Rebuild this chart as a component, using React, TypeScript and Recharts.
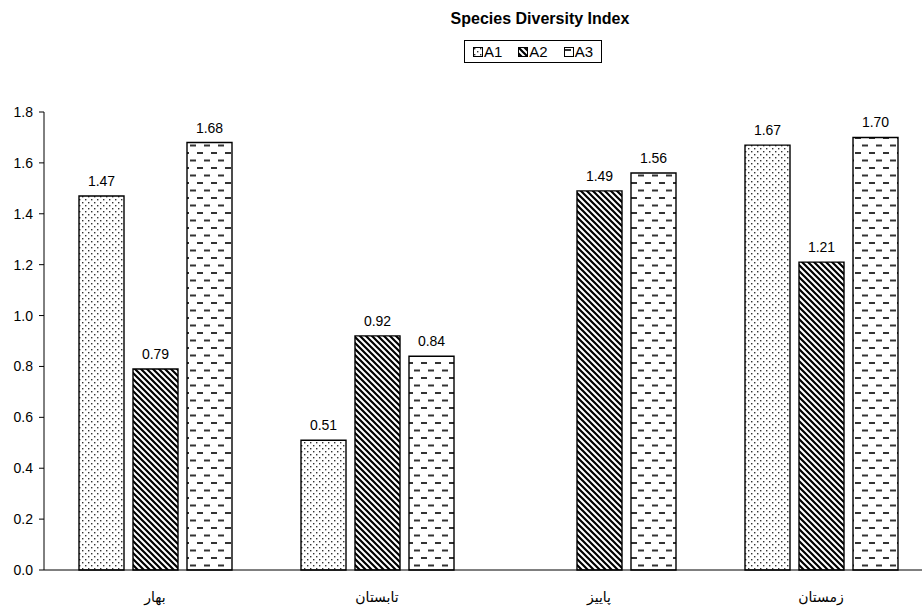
import React from "react";
import { BarChart, Bar, XAxis, YAxis, Legend, LabelList } from "recharts";

const categories = ["بهار", "تابستان", "پاییز", "زمستان"];
const seriesA1 = [1.47, 0.51, null, 1.67];
const seriesA2 = [0.79, 0.92, 1.49, 1.21];
const seriesA3 = [1.68, 0.84, 1.56, 1.7];
const yTicks = [0, 0.2, 0.4, 0.6, 0.8, 1.0, 1.2, 1.4, 1.6, 1.8];
const boundaryTicks = [0, 1, 2, 3, 4];

const data = categories.map((season, i) => ({
  season,
  A1: seriesA1[i],
  A2: seriesA2[i],
  A3: seriesA3[i],
}));

const FONT = "Arial, 'Liberation Sans', 'DejaVu Sans', sans-serif";

const patternFor: Record<string, string> = {
  A1: "url(#patDots)",
  A2: "url(#patDiag)",
  A3: "url(#patDash)",
};

const fmt = (v: any) => (v == null ? "" : Number(v).toFixed(2));

const renderLegend = (props: any) => {
  const { payload } = props;
  return (
    <div
      style={{
        display: "inline-flex",
        alignItems: "center",
        border: "1px solid #000",
        padding: "2px 8px",
        height: 17,
        fontFamily: FONT,
        fontSize: 15,
        color: "#000",
        background: "#fff",
      }}
    >
      {payload.map((entry: any, i: number) => (
        <span
          key={entry.value}
          style={{ display: "flex", alignItems: "center", marginRight: i < payload.length - 1 ? 16 : 0 }}
        >
          <svg width={10} height={10} style={{ marginRight: 1 }}>
            <rect x={0.5} y={0.5} width={9} height={9} fill={patternFor[entry.dataKey]} stroke="#000" />
          </svg>
          <span>{entry.value}</span>
        </span>
      ))}
    </div>
  );
};

export default function App() {
  return (
    <div
      style={{
        position: "absolute",
        left: 0,
        top: 0,
        width: 922,
        height: 609,
        overflow: "hidden",
        background: "#fff",
        fontFamily: FONT,
      }}
    >
      <div
        style={{
          position: "absolute",
          left: 440,
          top: 10,
          width: 200,
          textAlign: "center",
          fontSize: 16,
          fontWeight: "bold",
          color: "#000",
          whiteSpace: "nowrap",
        }}
      >
        Species Diversity Index
      </div>
      <BarChart
        width={942}
        height={609}
        data={data}
        margin={{ top: 112, right: 10, bottom: 0, left: 0 }}
        barCategoryGap={35}
        barGap={9}
      >
        <defs>
          <pattern id="patDots" patternUnits="userSpaceOnUse" width={6} height={6}>
            <rect width={6} height={6} fill="#fff" />
            <rect x={1} y={1} width={1.4} height={1.4} fill="#333" />
            <rect x={4} y={4} width={1.4} height={1.4} fill="#333" />
          </pattern>
          <pattern id="patDiag" patternUnits="userSpaceOnUse" width={6} height={6}>
            <rect width={6} height={6} fill="#fff" />
            <path d="M-1,-1 L7,7 M-4,2 L2,8 M2,-4 L8,2" stroke="#000" strokeWidth={2.2} />
          </pattern>
          <pattern id="patDash" patternUnits="userSpaceOnUse" width={14} height={15}>
            <rect width={14} height={15} fill="#fff" />
            <rect x={1} y={2} width={6} height={2} fill="#333" />
            <rect x={8} y={9.5} width={6} height={2} fill="#333" />
          </pattern>
        </defs>
        <XAxis
          xAxisId="aEdge"
          type="number"
          domain={[0, 4]}
          ticks={boundaryTicks}
          allowDataOverflow
          tick={false}
          tickSize={6}
          height={6}
          axisLine={{ stroke: "#000" }}
          tickLine={{ stroke: "#000" }}
        />
        <XAxis
          xAxisId="bCat"
          dataKey="season"
          height={33}
          axisLine={false}
          tickLine={false}
          tickSize={6}
          tickMargin={10}
          tick={{ fill: "#000", fontSize: 14, fontFamily: FONT }}
          interval={0}
        />
        <YAxis
          domain={[0, 1.8]}
          ticks={yTicks}
          width={44}
          tickSize={5}
          tickMargin={6}
          tickFormatter={(v: number) => v.toFixed(1)}
          tick={{ fill: "#000", fontSize: 14, fontFamily: FONT }}
          axisLine={{ stroke: "#000" }}
          tickLine={{ stroke: "#000" }}
        />
        <Legend
          content={renderLegend}
          layout="horizontal"
          verticalAlign="middle"
          align="center"
          wrapperStyle={{ position: "absolute", left: 464, top: 40, width: "auto" }}
        />
        {(["A1", "A2", "A3"] as const).map((key) => (
          <Bar
            key={key}
            xAxisId="bCat"
            dataKey={key}
            name={key}
            fill={patternFor[key]}
            stroke="#000"
            strokeWidth={1.4}
            isAnimationActive={false}
          >
            <LabelList
              dataKey={key}
              position="top"
              offset={10}
              formatter={fmt}
              style={{ fill: "#000", fontSize: 14, fontFamily: FONT }}
            />
          </Bar>
        ))}
      </BarChart>
    </div>
  );
}
